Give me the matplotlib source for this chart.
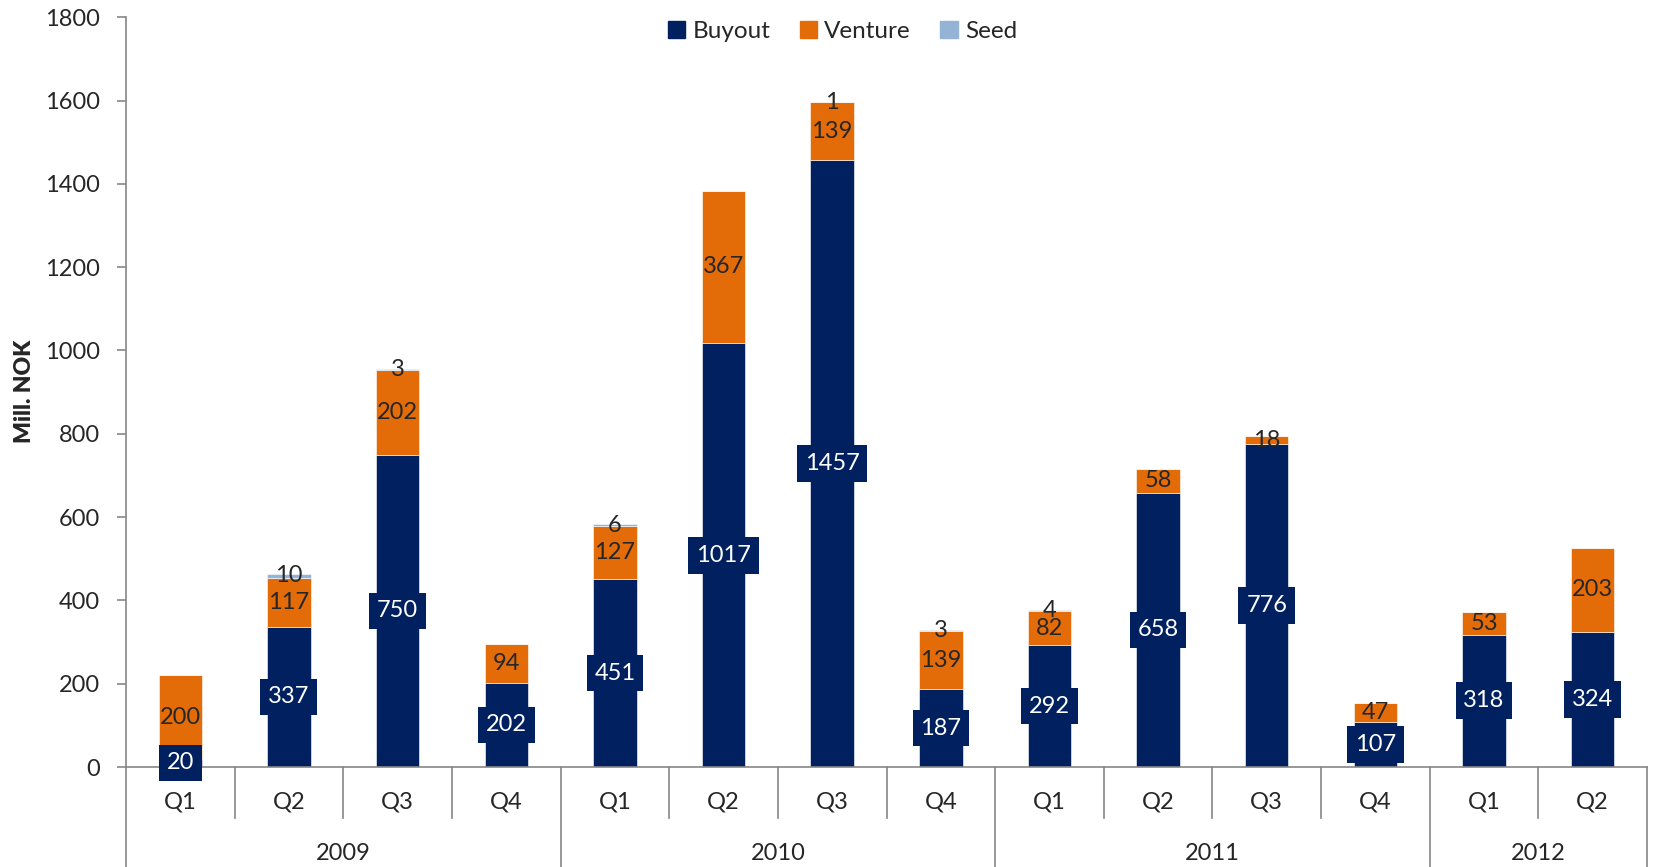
import numpy as np
import matplotlib
matplotlib.use("Agg")
import matplotlib.pyplot as plt
from matplotlib.patches import Patch

plt.rcParams['font.family'] = ['Lato', 'DejaVu Sans']

# data
quarters = ["Q1", "Q2", "Q3", "Q4", "Q1", "Q2", "Q3", "Q4", "Q1", "Q2", "Q3", "Q4", "Q1", "Q2"]
years = ["2009", "2010", "2011", "2012"]
year_len = [4, 4, 4, 2]
buyout = [20, 337, 750, 202, 451, 1017, 1457, 187, 292, 658, 776, 107, 318, 324]
venture = [200, 117, 202, 94, 127, 367, 139, 139, 82, 58, 18, 47, 53, 203]
seed = [0, 10, 3, 0, 6, 0, 1, 3, 4, 0, 0, 0, 0, 0]

navy = "#002060"
orange = "#E36C09"
light = "#95B3D7"
grey = "#868686"
txt = "#262626"
fs = 17

W, H = 1654, 867
fig = plt.figure(figsize=(W / 100, H / 100), dpi=100)
ax = fig.add_axes([126 / W, 100 / H, (1647 - 126) / W, (767 - 17.3) / H])

x = np.arange(len(quarters))
b = np.array(buyout)
v = np.array(venture)
s = np.array(seed)
bw = 0.4

ax.bar(x, b, bw, color=navy, edgecolor="white", linewidth=0.4, zorder=2)
ax.bar(x, v, bw, bottom=b, color=orange, edgecolor="white", linewidth=0.4, zorder=2)
ax.bar(x, s, bw, bottom=b + v, color=light, edgecolor="white", linewidth=0.4, zorder=2)

# data labels
for i in x:
    ax.text(i, b[i] / 2, str(b[i]), ha="center", va="center", color="white", fontsize=fs,
            zorder=5, bbox=dict(boxstyle="square,pad=0.33", fc=navy, ec="none"))
    ax.text(i, b[i] + v[i] / 2, str(v[i]), ha="center", va="center", color=txt, fontsize=fs, zorder=4)
    if s[i] > 0:
        ax.text(i, b[i] + v[i] + s[i] / 2, str(s[i]), ha="center", va="center", color=txt,
                fontsize=fs, zorder=4)

ax.set_xlim(-0.5, len(quarters) - 0.5)
ax.set_ylim(0, 1800)
ax.set_yticks(np.arange(0, 1801, 200))
ax.tick_params(axis="y", length=6.5, width=1.2, color=grey, pad=12.5, labelsize=fs, labelcolor=txt)
ax.set_xticks([])
for side in ["top", "right"]:
    ax.spines[side].set_visible(False)
ax.spines["left"].set_color(grey)
ax.spines["bottom"].set_color(grey)
ax.spines["left"].set_linewidth(1.2)
ax.spines["bottom"].set_linewidth(1.2)

# two-level category axis
trans = ax.get_xaxis_transform()
ppy = 1 / (767 - 17.3)  # axes fraction per pixel
for i, q in enumerate(quarters):
    ax.text(i, -35 * ppy, q, transform=trans, ha="center", va="center", fontsize=fs, color=txt)
bounds = np.cumsum([0] + year_len)
for j in range(1, len(quarters)):
    if j not in bounds:
        ax.plot([j - 0.5, j - 0.5], [0, -51 * ppy], transform=trans, color=grey, lw=1.2, clip_on=False)
for j in bounds:
    ax.plot([j - 0.5, j - 0.5], [0, -101 * ppy], transform=trans, color=grey, lw=1.2, clip_on=False)
for k, yr in enumerate(years):
    mid = (bounds[k] + bounds[k + 1] - 1) / 2
    ax.text(mid, -86 * ppy, yr, transform=trans, ha="center", va="center", fontsize=fs, color=txt)

fig.text(25 / W, 1 - 391 / H, "Mill. NOK", rotation=90, ha="center", va="center",
         fontsize=16.5, fontweight="heavy", color=txt)

handles = [Patch(color=navy), Patch(color=orange), Patch(color=light)]
ax.legend(handles, ["Buyout", "Venture", "Seed"], loc="center", bbox_to_anchor=(0.471, 1 - 14 * ppy),
          ncol=3, frameon=False, fontsize=17.5, handlelength=0.72, handleheight=0.72,
          handletextpad=0.3, columnspacing=1.2, labelcolor=txt)

fig.savefig("out.png", dpi=100)
